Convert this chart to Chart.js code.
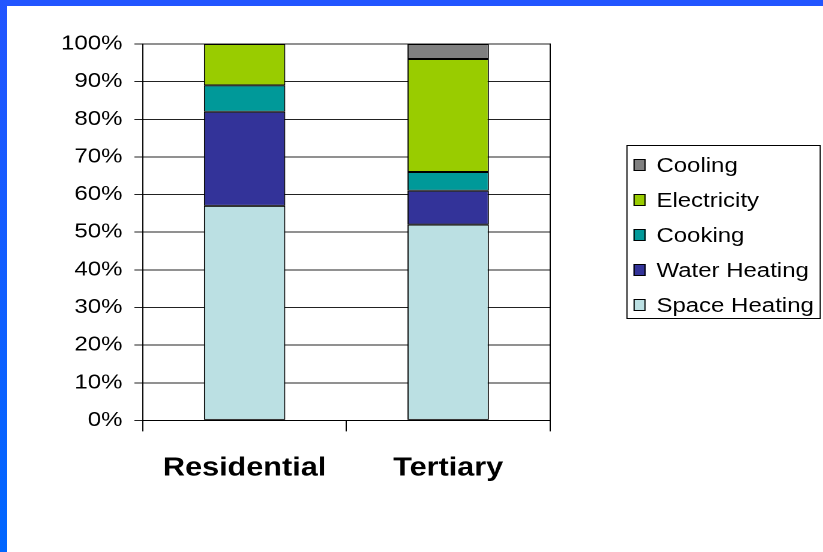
<!DOCTYPE html>
<html>
  <head>
    <style>
      body { margin: 0; background: #fff; }
      #frame-top {
        position: absolute; left: 0; top: 0; width: 823px; height: 6px;
        background: #2255ff; z-index: 2;
      }
      #frame-left {
        position: absolute; left: 0; top: 0; width: 7px; height: 552px;
        background: linear-gradient(to bottom, #2255ff, #0066ff); z-index: 2;
      }
      /* the chart is laid out narrow and stretched sideways to fill the slide */
      #chart-container {
        position: absolute; left: 0; top: 0;
        width: 686px; height: 552px;
        transform: scaleX(1.2); transform-origin: 0 0;
      }
      #legend {
        position: absolute; left: 521.7px; top: 145px;
        width: 162.5px; height: 174px;
        box-sizing: border-box; border: 1px solid #000;
        padding-top: 1.5px;
        font-family: "Liberation Sans", Arial, sans-serif;
        font-size: 20px; color: #000;
      }
      #legend .item {
        height: 35px; display: flex; align-items: center; white-space: nowrap;
      }
      #legend .swatch {
        flex: none; width: 10.5px; height: 12px; box-sizing: border-box;
        border: 1px solid #000; margin-left: 5.3px; margin-right: 8.5px;
      }
    </style>
  </head>
  <body>
    <div id="frame-top"></div>
    <div id="frame-left"></div>
    <div id="chart-container">
      <canvas id="chart" width="686" height="552" style="width: 686px; height: 552px"></canvas>
      <div id="legend"></div>
    </div>

    <script src="https://cdn.jsdelivr.net/npm/chart.js"></script>
    <script>
      const categories = ["Residential", "Tertiary"];
      const spaceHeating = [57, 52];
      const waterHeating = [25, 9];
      const cooking = [7, 5];
      const electricity = [11, 30];
      const cooling = [0, 4];
      const yTicks = [0, 10, 20, 30, 40, 50, 60, 70, 80, 90, 100];

      const fontFamily = '"Liberation Sans", Arial, sans-serif';

      function series(label, data, color) {
        return {
          label: label,
          data: data,
          backgroundColor: color,
          borderColor: "#000",
          borderWidth: 1,
          borderSkipped: false,
          barPercentage: 0.4,
          categoryPercentage: 1
        };
      }

      // legend as html, top of the stack first
      const htmlLegend = {
        id: "htmlLegend",
        afterUpdate(chart) {
          const box = document.getElementById("legend");
          box.innerHTML = "";
          const items = chart.options.plugins.legend.labels.generateLabels(chart).reverse();
          items.forEach(function (item) {
            const row = document.createElement("div");
            row.className = "item";
            const swatch = document.createElement("span");
            swatch.className = "swatch";
            swatch.style.background = item.fillStyle;
            const text = document.createElement("span");
            text.textContent = item.text;
            row.appendChild(swatch);
            row.appendChild(text);
            box.appendChild(row);
          });
        }
      };

      const canvas = document.getElementById("chart");

      new Chart(canvas, {
        type: "bar",
        data: {
          labels: categories,
          datasets: [
            series("Space Heating", spaceHeating, "#bbe0e3"),
            series("Water Heating", waterHeating, "#333399"),
            series("Cooking", cooking, "#009999"),
            series("Electricity", electricity, "#99cc00"),
            series("Cooling", cooling, "#808080")
          ]
        },
        options: {
          responsive: false,
          devicePixelRatio: 2,
          animation: false,
          layout: {
            padding: { top: 44, left: 0, right: 227.7, bottom: 46 }
          },
          plugins: {
            tooltip: { enabled: false },
            legend: { display: false }
          },
          scales: {
            x: {
              stacked: true,
              grid: {
                display: true,
                drawOnChartArea: false,
                drawTicks: true,
                tickLength: 11,
                color: "#000",
                offset: true
              },
              border: { display: true, color: "#000" },
              ticks: {
                color: "#000",
                padding: 22,
                font: { family: fontFamily, size: 25.5, weight: "bold" }
              }
            },
            y: {
              stacked: true,
              min: 0,
              max: 100,
              afterBuildTicks: function (scale) {
                scale.ticks = yTicks.map(function (v) { return { value: v }; });
              },
              afterFit: function (scale) { scale.width = 119; },
              grid: { color: "#222", tickLength: 7 },
              border: { color: "#000" },
              ticks: {
                color: "#000",
                padding: 10,
                font: { family: fontFamily, size: 20 },
                callback: function (value) { return value + "%"; }
              }
            },
            yRight: {
              position: "right",
              grid: { display: false },
              ticks: { display: false },
              border: { display: true, color: "#000" },
              afterFit: function (scale) { scale.width = 0; }
            }
          }
        },
        plugins: [htmlLegend]
      });
    </script>
  </body>
</html>
